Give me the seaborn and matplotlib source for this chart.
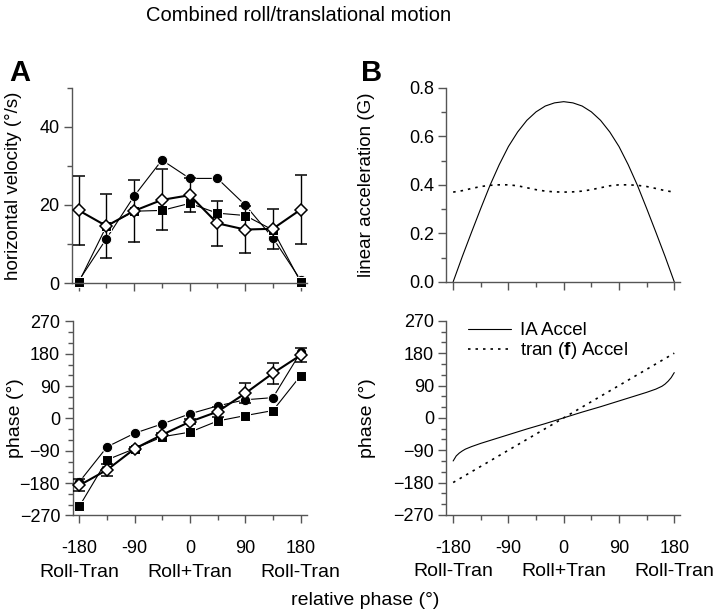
import numpy as np
import pandas as pd
import seaborn as sns
import matplotlib.pyplot as plt
from matplotlib.ticker import MultipleLocator, FormatStrFormatter

# relative phase (deg) of the tested conditions
phase_x = [-180, -135, -90, -45, 0, 45, 90, 135, 180]

# A top: horizontal velocity (deg/s)
vel_circle = [0.6, 11.4, 22.3, 31.5, 26.8, 26.8, 20.0, 11.6, 0.8]
vel_square = [0.2, 14.6, 18.4, 18.6, 20.4, 17.9, 17.3, 13.6, 0.3]
vel_diamond = [18.6, 14.6, 18.5, 21.3, 22.5, 15.3, 13.7, 13.9, 18.8]
vel_diamond_err = [8.8, 8.3, 8.0, 7.8, 4.3, 5.8, 6.0, 5.1, 8.8]

# A bottom: phase (deg)
ph_circle = [-176, -79, -41, -15, 13, 35, 52, 58, 184]
ph_square = [-244, -115, -84, -51, -38, -7, 8, 22, 119]
ph_diamond = [-186, -143, -84, -45, -9, 19, 70, 126, 176]
ph_diamond_err = [17, 17, 5, 5, 7, 14, 28, 29, 19]

# B: model curves sampled every 15 deg
model_x = [-180, -165, -150, -135, -120, -105, -90, -75, -60, -45, -30, -15, 0,
           15, 30, 45, 60, 75, 90, 105, 120, 135, 150, 165, 180]
ia_accel = [0.0, 0.105, 0.205, 0.303, 0.398, 0.483, 0.558, 0.618, 0.666, 0.701, 0.725, 0.738, 0.743,
            0.738, 0.725, 0.701, 0.666, 0.618, 0.558, 0.483, 0.398, 0.303, 0.205, 0.105, 0.0]
tran_accel = [0.370, 0.376, 0.385, 0.393, 0.398, 0.400, 0.400, 0.396, 0.388, 0.380, 0.374, 0.371, 0.370,
              0.371, 0.374, 0.380, 0.388, 0.396, 0.400, 0.400, 0.398, 0.393, 0.385, 0.376, 0.370]

ia_phase_x = [-180, -175, -170, -165, -160, -150, -135, -120, -90, -60, -30, 0,
              30, 60, 90, 120, 135, 150, 160, 165, 170, 175, 180]
ia_phase = [-120, -106, -98, -92, -87, -80, -71, -63, -47, -31, -16, 0,
            16, 31, 47, 63, 71, 80, 88, 94, 102, 112, 126]
tran_phase_x = [-180, 180]
tran_phase = [-180, 180]

sns.set_theme(style="ticks")
plt.rcParams['font.family'] = ['Liberation Sans', 'DejaVu Sans']
plt.rcParams['mathtext.fontset'] = 'custom'
plt.rcParams['mathtext.bf'] = 'Liberation Sans:bold'
plt.rcParams['mathtext.rm'] = 'Liberation Sans'
plt.rcParams['text.color'] = 'black'
plt.rcParams['axes.labelcolor'] = 'black'
plt.rcParams['xtick.labelcolor'] = 'black'
plt.rcParams['ytick.labelcolor'] = 'black'

spine_col = '#555555'
fig = plt.figure(figsize=(7.2, 6.1), dpi=100)
axA1 = fig.add_axes([0.100, 0.536, 0.326, 0.320])
axA2 = fig.add_axes([0.101, 0.155, 0.325, 0.318])
axB1 = fig.add_axes([0.620, 0.538, 0.325, 0.318])
axB2 = fig.add_axes([0.620, 0.156, 0.325, 0.318])

thin = dict(color='black', lw=0.8, clip_on=False)

# A top
sns.lineplot(x=phase_x, y=vel_circle, ax=axA1, marker='o', markersize=7.5, **thin)
sns.lineplot(x=phase_x, y=vel_square, ax=axA1, marker='s', markersize=6.5, **thin)
axA1.errorbar(phase_x, vel_diamond, yerr=vel_diamond_err, color='black', lw=1.5,
              elinewidth=1.0, capsize=4, marker='D', markersize=6, mfc='white',
              mec='black', mew=1.1, clip_on=False, zorder=4)

# A bottom
sns.lineplot(x=phase_x, y=ph_circle, ax=axA2, marker='o', markersize=7.5, **thin)
sns.lineplot(x=phase_x, y=ph_square, ax=axA2, marker='s', markersize=6.5, **thin)
axA2.errorbar(phase_x, ph_diamond, yerr=ph_diamond_err, color='black', lw=1.5,
              elinewidth=1.0, capsize=4, marker='D', markersize=6, mfc='white',
              mec='black', mew=1.1, clip_on=False, zorder=4)

# B top
sns.lineplot(x=model_x, y=ia_accel, ax=axB1, color='black', lw=0.8)
sns.lineplot(x=model_x, y=tran_accel, ax=axB1, color='black', lw=1.2, linestyle=(0, (1.5, 3)))

# B bottom
sns.lineplot(x=ia_phase_x, y=ia_phase, ax=axB2, color='black', lw=0.8, label='IA Accel')
sns.lineplot(x=tran_phase_x, y=tran_phase, ax=axB2, color='black', lw=1.2,
             linestyle=(0, (1.5, 3)), label=r'tran ($\mathbf{f}$) Accel')
axB2.legend(loc='upper left', bbox_to_anchor=(0.02, 1.08), frameon=False, fontsize=13.5,
            handlelength=2.3, handletextpad=0.5, labelspacing=0.05)

for ax in (axA1, axA2, axB1, axB2):
    ax.set_xlim(-191, 190)
    ax.xaxis.set_major_locator(MultipleLocator(90))
    ax.xaxis.set_minor_locator(MultipleLocator(45))
    for s in ('top', 'right'):
        ax.spines[s].set_visible(False)
    for s in ('left', 'bottom'):
        ax.spines[s].set_color(spine_col)
        ax.spines[s].set_linewidth(1.0)
    ax.tick_params(which='major', length=6, width=1.0, color=spine_col, labelsize=13, pad=3)
    ax.tick_params(which='minor', length=3.5, width=1.0, color=spine_col)

axA1.set_ylim(0, 50)
axA1.set_yticks([0, 20, 40])
axA1.yaxis.set_minor_locator(MultipleLocator(10))
axA1.set_ylabel('horizontal velocity (°/s)', fontsize=13.5)
axA1.yaxis.set_label_coords(-0.213, 0.5)

axB1.set_ylim(0, 0.8)
axB1.yaxis.set_major_locator(MultipleLocator(0.2))
axB1.yaxis.set_minor_locator(MultipleLocator(0.1))
axB1.yaxis.set_major_formatter(FormatStrFormatter('%.1f'))
axB1.set_ylabel('linear acceleration (G)', fontsize=13.5)
axB1.yaxis.set_label_coords(-0.305, 0.5)

for ax in (axA2, axB2):
    ax.set_ylim(-270, 270)
    ax.yaxis.set_major_locator(MultipleLocator(90))
    ax.yaxis.set_minor_locator(MultipleLocator(30))
    ax.set_ylabel('phase (°)', fontsize=14)
    ax.set_xticks([-180, -90, 0, 90, 180])
    ax.set_xticklabels(['-180', '-90', '0', '90', '180'])
    ax.tick_params(axis='x', which='major', pad=12)
    for xv, lab in zip([-180, 0, 180], ['Roll-Tran', 'Roll+Tran', 'Roll-Tran']):
        ax.annotate(lab, xy=(xv, 0), xycoords=('data', 'axes fraction'),
                    xytext=(0, -41), textcoords='offset points',
                    ha='center', va='center', fontsize=14)
axA2.yaxis.set_label_coords(-0.21, 0.5)
axB2.yaxis.set_label_coords(-0.30, 0.5)

for ax in (axA1, axB1):
    ax.tick_params(axis='x', which='both', labelbottom=False)

fig.text(0.415, 0.975, 'Combined roll/translational motion', ha='center', va='center', fontsize=14.5)
fig.text(0.027, 0.88, 'A', fontsize=21, fontweight='bold', va='center', ha='center')
fig.text(0.516, 0.88, 'B', fontsize=21, fontweight='bold', va='center', ha='center')
fig.text(0.507, 0.015, 'relative phase (°)', ha='center', va='center', fontsize=14)

fig.savefig('out.png', dpi=100)
